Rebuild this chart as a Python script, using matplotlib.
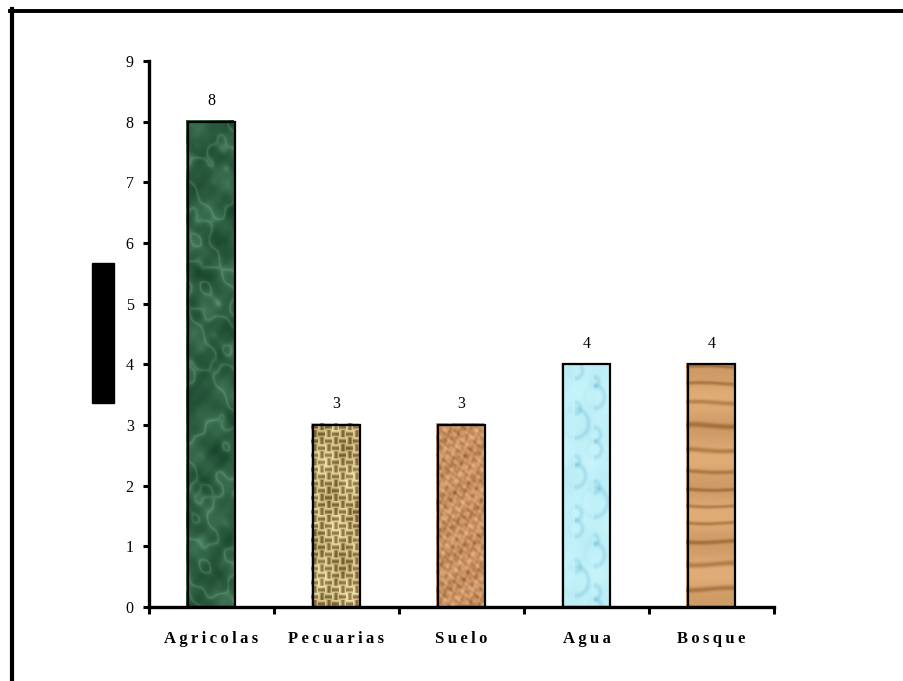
import numpy as np
import matplotlib
matplotlib.use("Agg")
import matplotlib.pyplot as plt
from matplotlib.patches import Rectangle
from matplotlib.lines import Line2D

# Data
categories = ["Agricolas", "Pecuarias", "Suelo", "Agua", "Bosque"]
values = [8, 3, 3, 4, 4]
y_ticks = [0, 1, 2, 3, 4, 5, 6, 7, 8, 9]

plt.rcParams["font.family"] = ["Liberation Serif", "DejaVu Serif"]

W, H = 904, 681
fig = plt.figure(figsize=(W / 100, H / 100), dpi=100)
ax = fig.add_axes([149 / W, 1 - 607 / H, 625 / W, 546 / H])


def blend(c1, c2, t):
    c1 = np.array(matplotlib.colors.to_rgb(c1))
    c2 = np.array(matplotlib.colors.to_rgb(c2))
    t = np.clip(t, 0, 1)[..., None]
    return c1 * (1 - t) + c2 * t


def norm(a):
    return (a - a.min()) / (a.max() - a.min() + 1e-9)


def grid(h, w):
    return np.mgrid[0:h, 0:w].astype(float)


def waves(x, y, specs):
    """Sum of plane waves: specs is a list of (fx, fy, phase, amp)."""
    out = np.zeros_like(x)
    for fx, fy, ph, a in specs:
        out += a * np.sin(x * fx + y * fy + ph)
    return out


def marble(h, w):
    y, x = grid(h, w)
    base = waves(x, y, [(0.07, 0.035, 0.3, 1.0), (-0.05, 0.08, 1.7, 0.9),
                        (0.14, -0.10, 2.9, 0.6), (0.21, 0.17, 0.8, 0.4),
                        (-0.28, 0.24, 4.1, 0.3)])
    veins = np.exp(-np.abs(np.sin(base * 1.3)) * 3.0)
    cloud = norm(waves(x, y, [(0.11, 0.06, 0.0, 1.0), (-0.09, 0.15, 2.0, 0.8),
                              (0.19, -0.12, 1.1, 0.5), (0.35, 0.29, 0.5, 0.3)]))
    t = 0.4 * veins + 0.45 * cloud
    return blend("#16432a", "#6aa580", t)


def burlap(h, w):
    y, x = grid(h, w)
    cell = ((x // 7) + (y // 7)) % 2
    horiz = 0.5 + 0.5 * np.cos(y * np.pi / 3.5)
    vert = 0.5 + 0.5 * np.cos(x * np.pi / 3.5)
    t = np.where(cell == 0, horiz, vert)
    shade = 0.35 * norm(waves(x, y, [(0.19, 0.06, 0.0, 1.0), (-0.07, 0.11, 1.3, 1.0),
                                     (0.33, 0.27, 2.1, 0.5)]))
    return blend("#7a5f2e", "#f1e4ac", 0.8 * t - shade + 0.25)


def cork(h, w):
    y, x = grid(h, w)
    n = waves(x, y, [(0.61, 0.37, 0.0, 1.0), (-0.43, 0.71, 1.1, 1.0),
                     (0.83, -0.29, 2.3, 0.8), (0.19, 0.93, 0.7, 0.7),
                     (1.27, 0.51, 3.1, 0.5), (-0.97, 1.13, 1.9, 0.5),
                     (0.13, 0.21, 0.4, 0.9)])
    return blend("#96582c", "#e9b786", norm(n) ** 0.75)


def water(h, w):
    y, x = grid(h, w)
    t = 0.12 * norm(waves(x, y, [(0.2, 0.05, 0.0, 1.0), (0.0, 0.11, 1.0, 1.0)]))
    centers = []
    for i, cy in enumerate(range(8, h + 20, 26)):
        cx = 14 if i % 2 == 0 else 33
        centers.append((cx, cy, 7 + 3 * ((i * 7) % 3)))
        centers.append((cx + (19 if i % 2 == 0 else -19), cy + 11, 4 + (i % 3)))
    for cx, cy, r0 in centers:
        r = np.hypot(x - cx, (y - cy) * 0.9)
        t += 0.35 * np.exp(-((r - r0) ** 2) / 5) * (0.6 + 0.4 * np.sign(x - cx + 0.1))
    return blend("#c6f4fb", "#78c3d6", t)


def wood(h, w):
    y, x = grid(h, w)
    g = np.sin(y * 0.32 + 1.5 * np.sin(y * 0.045) + 0.3 * np.sin(x * 0.08 + y * 0.02))
    g2 = np.sin(y * 0.11 + 0.7)
    t = 0.6 * np.clip(g, 0, 1) ** 4 + 0.25 * norm(g2)
    return blend("#e0ad77", "#9b6331", t)


textures = [marble, burlap, cork, water, wood]

bar_width = 0.38
px_per_unit = 546 / 9
x = np.arange(len(categories))

for xi, v, tex in zip(x, values, textures):
    x0 = xi - bar_width / 2
    img = tex(int(v * px_per_unit), 48)
    outline = Rectangle((x0, 0), bar_width, v, facecolor="none",
                        edgecolor="black", linewidth=1.6, zorder=4)
    im = ax.imshow(img, extent=(x0 - 0.015, x0 + bar_width - 0.015, 0, v + 0.03),
                   aspect="auto", origin="upper", zorder=2, interpolation="bilinear")
    clip = Rectangle((x0 - 0.015, 0), bar_width, v + 0.03, transform=ax.transData)
    im.set_clip_path(clip)
    ax.add_patch(outline)
    ax.text(xi, v + 0.34, str(v), ha="center", va="center", fontsize=11.5)

ax.set_xlim(-0.5, 4.5)
ax.set_ylim(0, 9)
ax.set_yticks(y_ticks)
ax.set_yticklabels([str(t) for t in y_ticks], fontsize=11.5)
ax.set_xticks(x)
spaced = ["\u2009".join(c) for c in categories]
ax.set_xticklabels(spaced, fontsize=12, fontweight="bold")
ax.set_xticks(np.arange(-0.5, 5.0, 1.0), minor=True)
ax.tick_params(axis="x", which="major", length=0, pad=17)
ax.tick_params(axis="x", which="minor", length=5, width=2.2, direction="out")
ax.tick_params(axis="y", length=4, width=2.2, direction="out", pad=7)

for s in ("top", "right"):
    ax.spines[s].set_visible(False)
for s in ("left", "bottom"):
    ax.spines[s].set_linewidth(2.4)

# Dark label block beside the y axis
fig.patches.append(Rectangle((92 / W, 1 - 403 / H), 22 / W, 140 / H,
                             transform=fig.transFigure, color="black"))

# Chart frame (top and left edges)
fig.lines.append(Line2D([10 / W, 1], [1 - 10.5 / H] * 2, transform=fig.transFigure,
                        color="black", linewidth=2.8))
fig.lines.append(Line2D([12 / W] * 2, [0, 1 - 9 / H], transform=fig.transFigure,
                        color="black", linewidth=3.0))

fig.savefig("out.png", dpi=100)
